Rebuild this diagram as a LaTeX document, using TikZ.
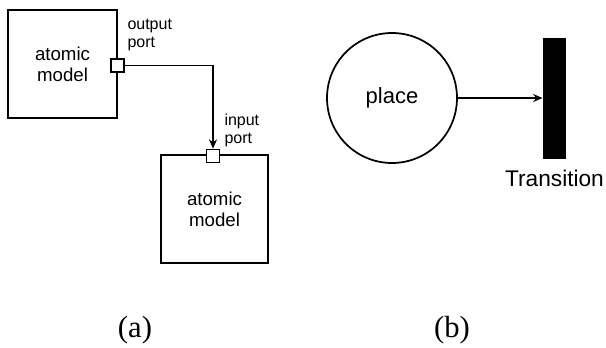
\documentclass[tikz,border=0pt]{standalone}
\usepackage{fontspec}
\setmainfont{Liberation Serif}
\newfontfamily\diagfont{Liberation Sans}
\usetikzlibrary{arrows.meta}

\tikzset{every picture/.style={line width=0.75pt}}
\tikzset{
  model/.style={draw, line width=1.3pt, minimum width=81.75pt, minimum height=81pt, align=center, font=\diagfont\fontsize{14}{16}\selectfont},
  portbox/.style={draw, line width=1.2pt, fill=white, minimum size=9.75pt, inner sep=0pt},
  portlabel/.style={anchor=west, inner sep=0.75pt, align=left, font=\diagfont\fontsize{12}{13.5}\selectfont},
  link/.style={line width=1.3pt, -{Stealth[length=7pt, width=6pt]}}
}

\begin{document}
\begin{tikzpicture}[x=0.75pt,y=0.75pt,yscale=-1,xscale=1]
\useasboundingbox (0,0) rectangle (606,347);

%Shape: Square [id:model_a]
\node [model] (modelA) at (62.5,64) {atomic\\model};
%Shape: Square [id:model_b]
\node [model, minimum width=80.25pt] (modelB) at (214.5,209) {atomic\\model};
%Shape: Port [id:out_port]
\node [portbox] (outPort) at (117.5,65.5) {};
%Shape: Port [id:in_port]
\node [portbox] (inPort) at (213,156) {};
%Connector [id:coupling]
\draw [link] (outPort.east) -| (inPort.north);

%Shape: Circle [id:place]
\node [draw, circle, line width=1.3pt, minimum size=97.5pt, font=\diagfont\fontsize{16.5}{18}\selectfont] (place) at (392,98) {place};
%Shape: Bar [id:transition]
\node [fill=black, minimum width=17.25pt, minimum height=90.75pt, inner sep=0pt] (trans) at (554.5,98) {};
%Connector [id:arc]
\draw [link] (place.east) -- (trans.west);

% Text Node
\node [portlabel] (outLabel) at (126,35) {output\\port};
% Text Node
\node [portlabel] (inLabel) at (223,130) {input\\port};
% Text Node
\node [anchor=north, inner sep=0.75pt, font=\diagfont\fontsize{17}{19}\selectfont] (transLabel) at (554.5,169) {Transition};
% Text Node
\node [font=\fontsize{23}{25}\selectfont] (capA) at (135,330) {(a)};
% Text Node
\node [font=\fontsize{23}{25}\selectfont] (capB) at (452,330) {(b)};

\end{tikzpicture}
\end{document}
